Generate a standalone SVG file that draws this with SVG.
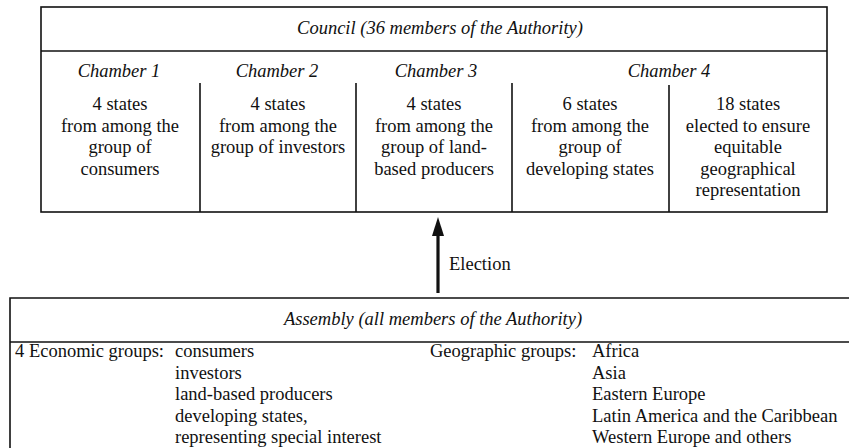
<svg xmlns="http://www.w3.org/2000/svg" width="849" height="448" viewBox="0 0 849 448" font-family="Liberation Serif" font-size="18.5">
<style>
text{fill:#111}
.i{font-style:italic}
.c{text-anchor:middle}
.ln{stroke:#111;stroke-width:1.6;fill:none}
</style>
<rect width="849" height="448" fill="#fff"/>
<g id="council" font-family="Liberation Serif">
<rect class="ln" x="41" y="7" width="786" height="205"/>
<line class="ln" x1="41" y1="51" x2="827" y2="51"/>
<text class="i c" x="440" y="34">Council (36 members of the Authority)</text>
</g>
<g id="chamber1" font-family="Liberation Serif">
<text class="i c" x="119" y="77">Chamber 1</text>
<text class="c" x="120" y="110">4 states</text>
<text class="c" x="120" y="131.5">from among the</text>
<text class="c" x="120" y="153">group of</text>
<text class="c" x="120" y="174.5">consumers</text>
</g>
<g id="chamber2" font-family="Liberation Serif">
<line class="ln" x1="200" y1="83" x2="200" y2="212"/>
<text class="i c" x="277" y="77">Chamber 2</text>
<text class="c" x="278" y="110">4 states</text>
<text class="c" x="278" y="131.5">from among the</text>
<text class="c" x="278" y="153">group of investors</text>
</g>
<g id="chamber3" font-family="Liberation Serif">
<line class="ln" x1="356" y1="83" x2="356" y2="212"/>
<text class="i c" x="436" y="77">Chamber 3</text>
<text class="c" x="434" y="110">4 states</text>
<text class="c" x="434" y="131.5">from among the</text>
<text class="c" x="434" y="153">group of land-</text>
<text class="c" x="434" y="174.5">based producers</text>
</g>
<g id="chamber4" font-family="Liberation Serif">
<line class="ln" x1="512" y1="83" x2="512" y2="212"/>
<line class="ln" x1="669" y1="85" x2="669" y2="212"/>
<text class="i c" x="669" y="77">Chamber 4</text>
<text class="c" x="590" y="110">6 states</text>
<text class="c" x="590" y="131.5">from among the</text>
<text class="c" x="590" y="153">group of</text>
<text class="c" x="590" y="174.5">developing states</text>
<text class="c" x="748" y="110">18 states</text>
<text class="c" x="748" y="131.5">elected to ensure</text>
<text class="c" x="748" y="153">equitable</text>
<text class="c" x="748" y="174.5">geographical</text>
<text class="c" x="748" y="196">representation</text>
</g>
<g id="connectors" font-family="Liberation Serif">
<line x1="438" y1="233" x2="438" y2="293" stroke="#111" stroke-width="3.2"/>
<polygon points="438,217 432,236 444,236" fill="#111"/>
<text x="449" y="270">Election</text>
</g>
<g id="assembly" font-family="Liberation Serif">
<polyline class="ln" points="10,448 10,298 849,298"/>
<line class="ln" x1="10" y1="342" x2="849" y2="342"/>
<text class="i c" x="433" y="325">Assembly (all members of the Authority)</text>
<text x="15" y="357">4 Economic groups:</text>
<text x="175" y="357">consumers</text>
<text x="175" y="378.5">investors</text>
<text x="175" y="400">land-based producers</text>
<text x="175" y="421.5">developing states,</text>
<text x="175" y="443">representing special interest</text>
<text x="430" y="357">Geographic groups:</text>
<text x="592" y="357">Africa</text>
<text x="592" y="378.5">Asia</text>
<text x="592" y="400">Eastern Europe</text>
<text x="592" y="421.5">Latin America and the Caribbean</text>
<text x="592" y="443">Western Europe and others</text>
</g>
</svg>
